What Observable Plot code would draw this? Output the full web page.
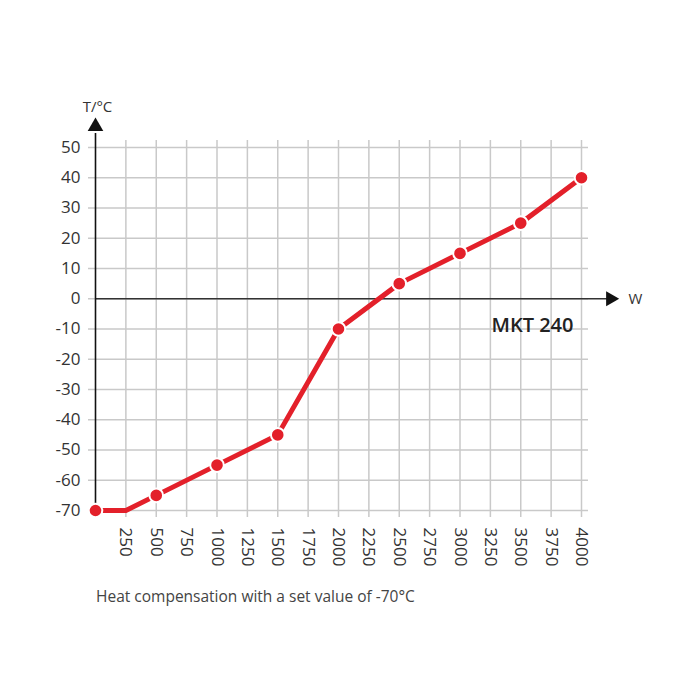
<!DOCTYPE html>
<html>
<head>
<meta charset="utf-8">
<script src="https://cdn.jsdelivr.net/npm/d3@7"></script>
<script src="https://cdn.jsdelivr.net/npm/@observablehq/plot@0.6"></script>
<style>
  body { margin: 0; background: white; }
  #caption { font-family: "Open Sans", sans-serif; font-size: 15.5px; color: #444; padding-left: 96px; margin-top: 5px; }
</style>
</head>
<body>
<div id="chart"></div>
<div id="caption">Heat compensation with a set value of -70°C</div>
<script>
const power = [0, 250, 500, 1000, 1500, 2000, 2500, 3000, 3500, 4000];
const temperature = [-70, -70, -65, -55, -45, -10, 5, 15, 25, 40];
const hasMarker = [true, false, true, true, true, true, true, true, true, true];
const xTicks = [250, 500, 750, 1000, 1250, 1500, 1750, 2000, 2250, 2500, 2750, 3000, 3250, 3500, 3750, 4000];
const yTicks = [-70, -60, -50, -40, -30, -20, -10, 0, 10, 20, 30, 40, 50];
const yAxisLabel = ["T/°C"];
const xAxisLabel = ["W"];
const seriesLabel = ["MKT 240"];

const data = power.map((p, i) => ({power: p, temperature: temperature[i], marked: hasMarker[i]}));
const red = "#e3202a";
const grid = "#c9c9c9";

const chart = Plot.plot({
  width: 700,
  height: 580,
  marginLeft: 95,
  marginRight: 119,
  marginTop: 147,
  marginBottom: 70,
  style: {fontFamily: "Open Sans, sans-serif", fontSize: "17px", color: "#333", background: "white"},
  x: {domain: [0, 4000], ticks: xTicks, tickSize: 0, tickPadding: 17, tickRotate: 90, tickFormat: d => String(d), label: null},
  y: {domain: [-70, 50], ticks: yTicks, tickSize: 0, tickPadding: 15, tickFormat: d => String(d), label: null},
  marks: [
    Plot.ruleX(xTicks, {stroke: grid, strokeWidth: 1.5, insetTop: -7, insetBottom: -7}),
    Plot.ruleY(yTicks, {stroke: grid, strokeWidth: 1.5, insetLeft: -7, insetRight: -7}),
    Plot.ruleY([0], {stroke: "#333", strokeWidth: 1.6, insetRight: -26}),
    Plot.ruleX([0], {stroke: "#111", strokeWidth: 1.6, insetTop: -14}),
    Plot.dot([0], {x: d => d, frameAnchor: "top", dy: -21, symbol: "triangle", r: 5.8, fill: "#111", stroke: "none"}),
    Plot.dot([0], {y: d => d, frameAnchor: "right", dx: 29, symbol: "triangle", rotate: 90, r: 5.6, fill: "#111", stroke: "none"}),
    Plot.text(yAxisLabel, {x: () => 0, text: d => d, frameAnchor: "top", dy: -46, dx: 2, fontSize: 15, fill: "#333"}),
    Plot.text(xAxisLabel, {y: () => 0, text: d => d, frameAnchor: "right", textAnchor: "start", dx: 47, fontSize: 15, fill: "#333"}),
    Plot.text(seriesLabel, {x: null, y: null, text: d => d, frameAnchor: "top-right", textAnchor: "end", dx: -8, dy: 170, fontSize: 20, fontWeight: 600, fill: "#222"}),
    Plot.line(data, {x: "power", y: "temperature", stroke: red, strokeWidth: 5}),
    Plot.dot(data.filter(d => d.marked), {x: "power", y: "temperature", r: 6.8, fill: red, stroke: "white", strokeWidth: 2})
  ]
});
document.getElementById("chart").appendChild(chart);
</script>
</body>
</html>
